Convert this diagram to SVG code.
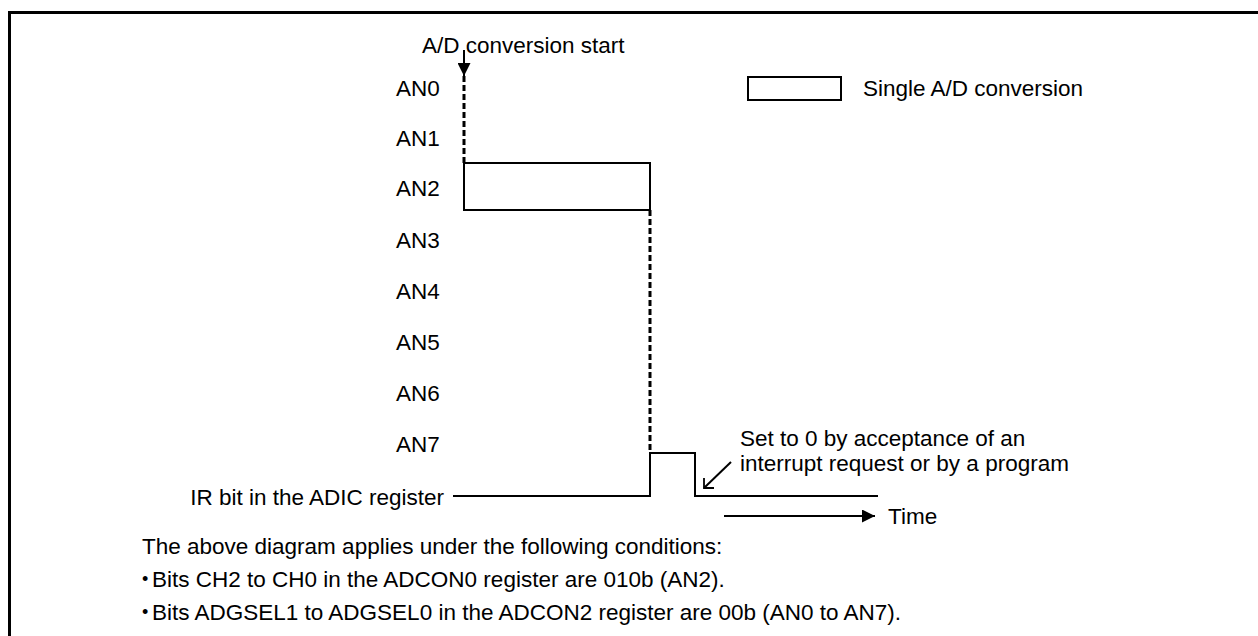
<svg xmlns="http://www.w3.org/2000/svg" width="1258" height="636" viewBox="0 0 1258 636">
<defs>
<style>
text{font-family:"Liberation Sans",Arial,sans-serif;font-size:22.5px;fill:#000}
.bul{font-size:18px}
.ln{stroke:#000;stroke-width:2;fill:none}
.dash{stroke:#000;stroke-width:3;stroke-dasharray:6 3;fill:none}
</style>
<marker id="ah" viewBox="0 0 13 13" refX="13" refY="6.5" markerWidth="13" markerHeight="13" markerUnits="userSpaceOnUse" orient="auto"><path d="M0,0L13,6.5L0,13z" fill="#000"/></marker>
<marker id="oh" viewBox="0 0 12 12" refX="1" refY="11" markerWidth="12" markerHeight="12" markerUnits="userSpaceOnUse" orient="0"><path d="M1,1L1,11L11,11" fill="none" stroke="#000" stroke-width="1.8"/></marker>
</defs>
<rect width="1258" height="636" fill="#fff"/>
<path d="M9.5,636V12.5H1258" stroke="#000" stroke-width="3" fill="none"/>
<g id="labels">
<text x="396" y="96">AN0</text>
<text x="396" y="146">AN1</text>
<text x="396" y="196">AN2</text>
<text x="396" y="248">AN3</text>
<text x="396" y="299">AN4</text>
<text x="396" y="350">AN5</text>
<text x="396" y="401">AN6</text>
<text x="396" y="452">AN7</text>
<text x="444" y="505" text-anchor="end">IR bit in the ADIC register</text>
</g>
<g id="start"><text x="422" y="53">A/D conversion start</text></g>
<g id="conv"><rect class="ln" x="464" y="163" width="186" height="47"/></g>
<g id="legend"><rect class="ln" x="748" y="77" width="93" height="23"/><text x="863" y="96">Single A/D conversion</text></g>
<g id="note"><text x="740" y="446">Set to 0 by acceptance of an</text><text x="740" y="471">interrupt request or by a program</text></g>
<g id="time"><text x="888" y="524">Time</text></g>
<g id="cond">
<text x="142" y="554">The above diagram applies under the following conditions:</text>
<text class="bul" x="142" y="585">•</text>
<text x="152" y="587">Bits CH2 to CH0 in the ADCON0 register are 010b (AN2).</text>
<text class="bul" x="142" y="618">•</text>
<text x="152" y="620">Bits ADGSEL1 to ADGSEL0 in the ADCON2 register are 00b (AN0 to AN7).</text>
</g>
<g id="connectors">
<path class="ln" d="M464,50V76" marker-end="url(#ah)"/>
<path class="dash" d="M464,76V163"/>
<path class="dash" d="M650,210V453"/>
<path class="ln" d="M453,496H650V453H695V496H878"/>
<path class="ln" d="M731,462L704,488" marker-end="url(#oh)"/>
<path class="ln" d="M724,516H875" marker-end="url(#ah)"/>
</g>
</svg>
